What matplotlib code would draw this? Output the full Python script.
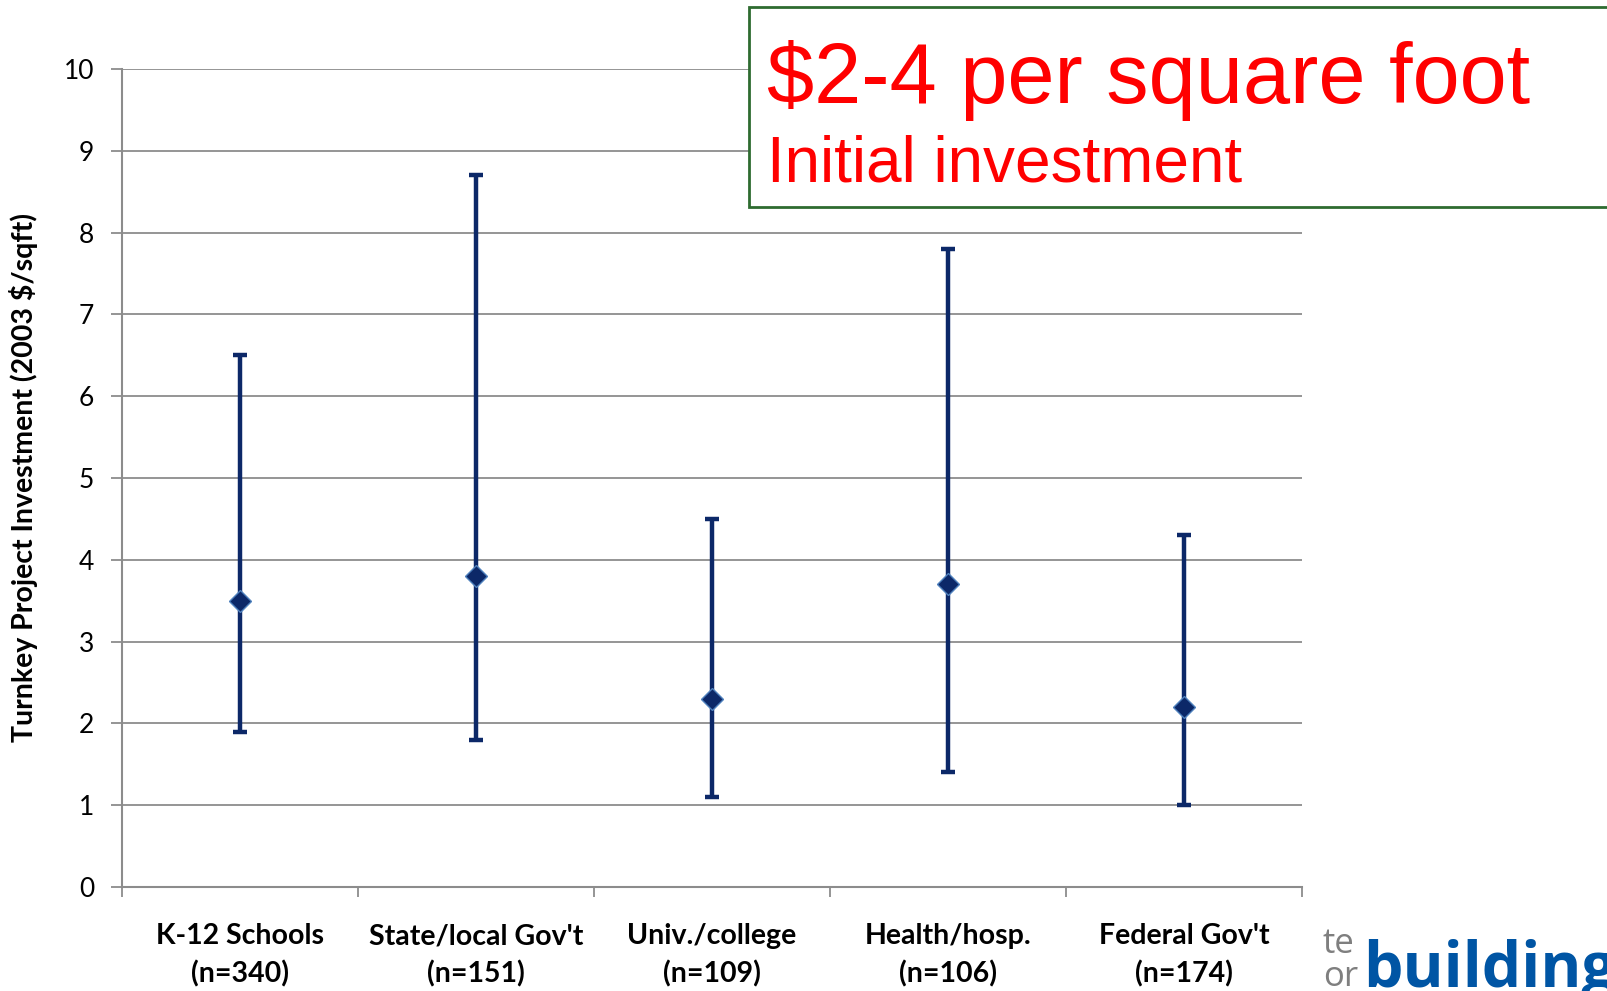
import matplotlib.pyplot as plt
from matplotlib.patches import Rectangle
import numpy as np

# data
categories = ["K-12 Schools\n(n=340)", "State/local Gov't\n(n=151)", "Univ./college\n(n=109)",
              "Health/hosp.\n(n=106)", "Federal Gov't\n(n=174)"]
median = [3.5, 3.8, 2.3, 3.7, 2.2]
low = [1.9, 1.8, 1.1, 1.4, 1.0]
high = [6.5, 8.7, 4.5, 7.8, 4.3]
yticks = list(range(0, 11))

navy = '#0c2868'
grid_col = '#8c8c8c'

fig = plt.figure(figsize=(16.08, 9.91), dpi=100)
ax = fig.add_axes([122 / 1608, 1 - 887 / 991, (1302 - 122) / 1608, (887 - 69) / 991])

x = np.arange(len(categories))
med = np.array(median)
err = [med - np.array(low), np.array(high) - med]
ax.errorbar(x, med, yerr=err, fmt='none', ecolor=navy, elinewidth=3.2, capsize=5, capthick=3.2, zorder=3)
ax.plot(x, med, linestyle='none', marker='D', markersize=11, markerfacecolor=navy,
        markeredgecolor='#4f81bd', markeredgewidth=1, zorder=4)

ax.set_xlim(-0.5, len(categories) - 0.5)
ax.set_ylim(0, 10)
ax.set_yticks(yticks)
ax.set_yticklabels([str(v) for v in yticks], fontsize=19, family='Lato')
ax.yaxis.grid(True, color=grid_col, linewidth=1.3)
ax.set_axisbelow(True)
ax.tick_params(axis='y', length=8, width=1.3, color=grid_col, pad=12)

ax.set_xticks(x)
ax.set_xticklabels(categories, fontsize=20.5, fontweight='bold', family='Lato', linespacing=1.5)
ax.set_xticks(np.arange(-0.5, len(categories)), minor=True)
ax.tick_params(axis='x', which='major', length=0, pad=26)
ax.tick_params(axis='x', which='minor', length=7, width=1.3, color=grid_col)

for s in ['top', 'right']:
    ax.spines[s].set_visible(False)
for s in ['left', 'bottom']:
    ax.spines[s].set_color(grid_col)
    ax.spines[s].set_linewidth(1.5)

ax.set_ylabel('Turnkey Project Investment (2003 $/sqft)', fontsize=20.5, fontweight='bold', family='Lato')
ax.yaxis.set_label_coords(-0.071, 0.5)

# callout box overlaid on the slide
fig.patches.append(Rectangle((749 / 1608, 1 - 207 / 991), 900 / 1608, 200 / 991,
                             transform=fig.transFigure, facecolor='white', edgecolor='#2e6b30',
                             linewidth=2, zorder=5))
fig.text(767 / 1608, 1 - 103 / 991, '$2-4 per square foot', color='#ff0000', fontsize=61,
         family='Liberation Sans', va='baseline', zorder=6)
fig.text(767 / 1608, 1 - 182 / 991, 'Initial investment', color='#ff0000', fontsize=46,
         family='Liberation Sans', va='baseline', zorder=6)

# partly hidden logo in the corner
fig.text(1323 / 1608, 1 - 953 / 991, 'te', color='#7f7f7f', fontsize=25, family='Open Sans', va='baseline')
fig.text(1323 / 1608, 1 - 986 / 991, 'or', color='#7f7f7f', fontsize=25, family='Open Sans', va='baseline')
fig.text(1363 / 1608, 1 - 987 / 991, 'buildings', color='#0055a4', fontsize=45, fontweight='bold',
         family='Open Sans', va='baseline')

fig.savefig('out.png', dpi=100)
